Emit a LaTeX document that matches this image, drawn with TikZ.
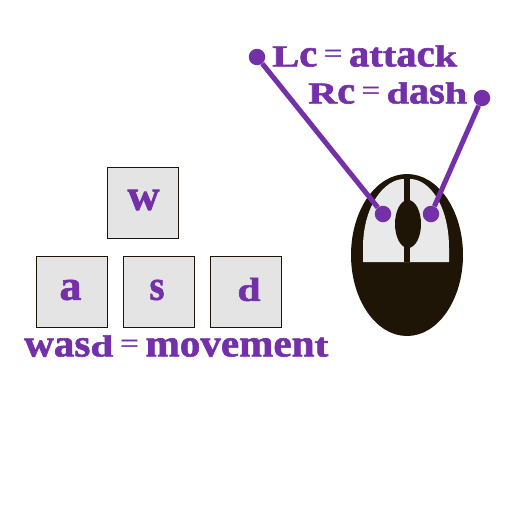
\documentclass[tikz,border=0pt]{standalone}
\usepackage{graphicx}
\usepackage{fontspec}
\setmainfont[FakeBold=1.5]{Liberation Serif}
\definecolor{pur}{HTML}{7430A8}
\definecolor{dark}{HTML}{1E1507}
\definecolor{keyg}{HTML}{E4E4E4}
\definecolor{btn}{HTML}{E9E9E9}
\newcommand{\lo}[1]{\scalebox{1}[1.28]{#1}}
\newcommand{\tee}{\scalebox{1}[1.1]{t}}
\newcommand{\eq}{\,\raisebox{0.3ex}{\scalebox{0.8}[0.9]{\mdseries=}}\,}
\newcommand{\fit}[3]{\resizebox{#1pt}{#2pt}{\bfseries #3}}
\tikzset{
  keybox/.style={draw=dark,line width=1pt,fill=keyg,minimum size=71pt,inner sep=0pt},
  keylabel/.style={inner sep=0pt,text=pur},
  caption/.style={inner sep=0pt,text=pur,anchor=south west},
  dot/.style={circle,fill=pur,minimum size=16.5pt,inner sep=0pt},
  lead/.style={draw=pur,line width=5pt}
}
\begin{document}
\begin{tikzpicture}[x=1pt,y=-1pt]
\useasboundingbox (0,0) rectangle (512,512);
% mouse
\fill[dark] (407,255) ellipse [x radius=56pt,y radius=81pt];
\fill[btn] (363,262) -- (363,248) .. controls (363,205) and (385,179) .. (404,179) -- (410,179) .. controls (429,179) and (449,205) .. (449,248) -- (449,262) -- cycle;
\fill[dark] (404,178) rectangle (410,262);
\fill[dark] (408,224) ellipse [x radius=13pt,y radius=24pt];
% keys
\node[keybox] (w) at (143,203) {};
\node[keybox] (a) at (72,292) {};
\node[keybox] (s) at (159,292) {};
\node[keybox] (d) at (246,292) {};
\node[keylabel] (wl) at (143.5,200) {\fit{32}{20}{\lo{w}}};
\node[keylabel] (al) at (70.5,290) {\fit{22}{20}{\lo{a}}};
\node[keylabel] (sl) at (157,290) {\fit{15}{20}{\lo{s}}};
\node[keylabel] (dl) at (249,289.5) {\fit{23}{23}{d}};
% captions
\node[caption] (mv) at (24,357) {\fit{304}{21}{\lo{was}d\eq\lo{mov}\lo{em}\lo{en}\tee}};
\node[caption] (lc) at (272,67) {\fit{185}{21}{L\lo{c}\eq\lo{a}\tee\tee\lo{ac}k}};
\node[caption] (rc) at (308,104) {\fit{159}{21}{R\lo{c}\eq d\lo{as}h}};
% leads
\node[dot] (p1) at (257,57) {};
\node[dot] (p2) at (482,98) {};
\node[dot] (b1) at (383,214) {};
\node[dot] (b2) at (431,214) {};
\draw[lead] (p1) -- (b1);
\draw[lead] (p2) -- (b2);
\end{tikzpicture}
\end{document}
